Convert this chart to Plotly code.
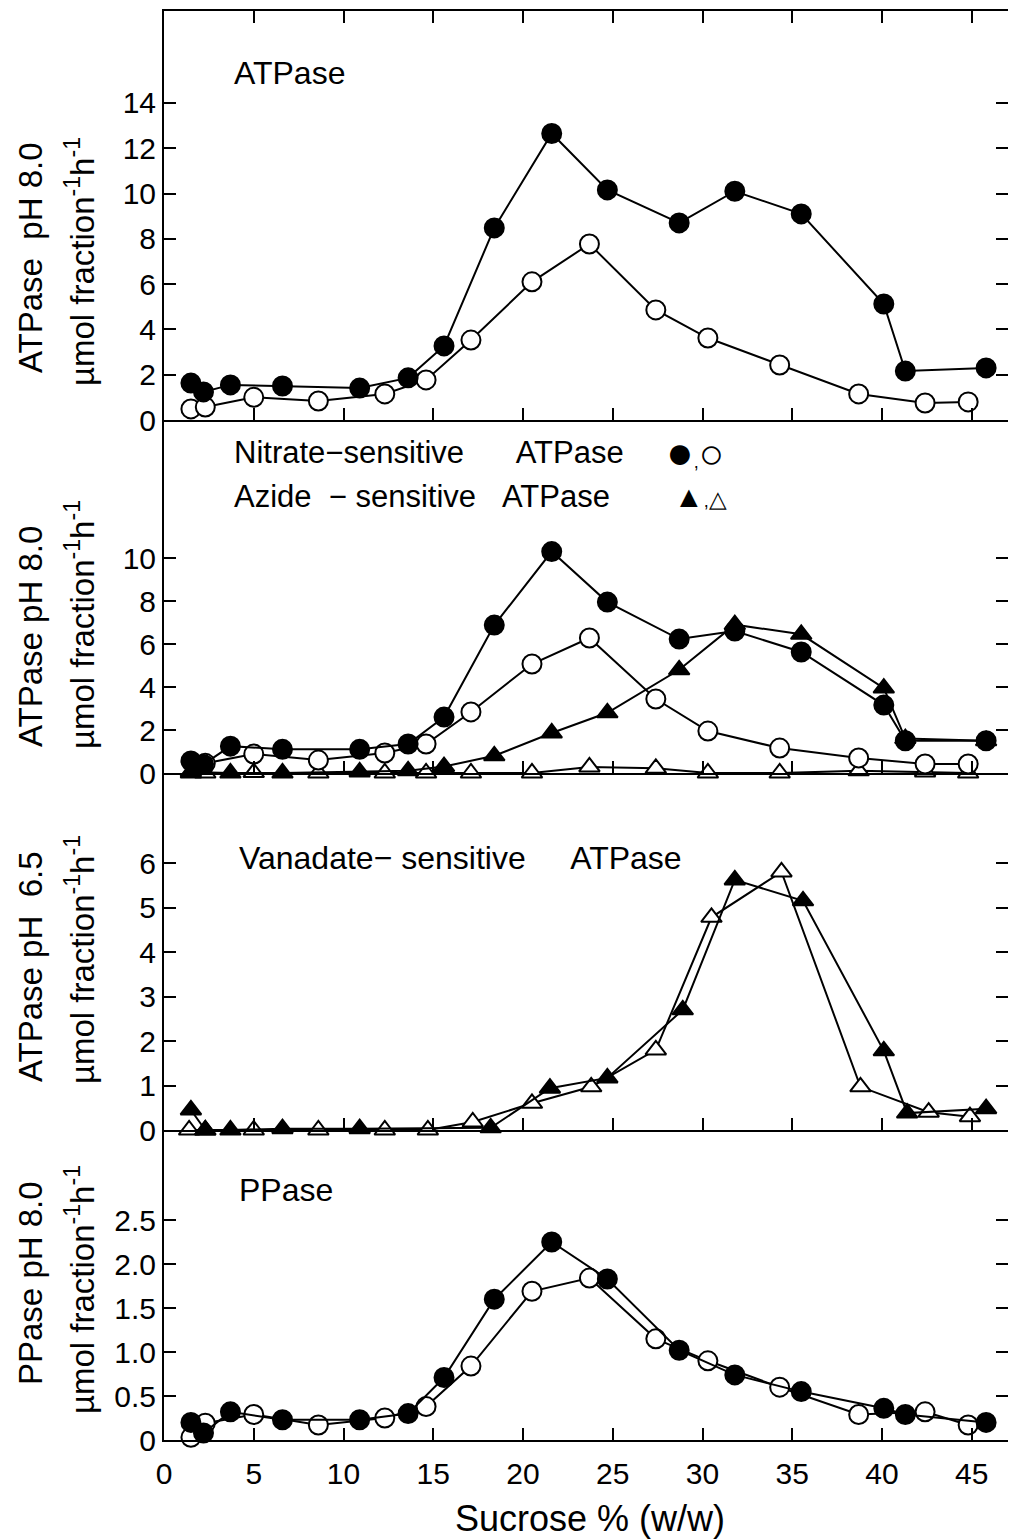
import plotly.graph_objects as go
from plotly.subplots import make_subplots

# ---------------- data ----------------
# fraction positions (sucrose %, w/w)
x_filled = [1.5, 2.2, 3.7, 6.6, 10.9, 13.6, 15.6, 18.4, 21.6, 24.7, 28.7, 31.8, 35.5, 40.1, 41.3, 45.8]
x_open = [1.5, 2.3, 5.0, 8.6, 12.3, 14.6, 17.1, 20.5, 23.7, 27.4, 30.3, 34.3, 38.7, 42.4, 44.8]

# Panel 1: ATPase pH 8.0
atp_filled = [1.63, 1.24, 1.55, 1.5, 1.41, 1.86, 3.27, 8.48, 12.65, 10.16, 8.7, 10.1, 9.1, 5.12, 2.16, 2.3]
atp_open = [0.49, 0.57, 1.0, 0.84, 1.15, 1.77, 3.53, 6.1, 7.77, 4.86, 3.62, 2.43, 1.15, 0.75, 0.8]

# Panel 2: nitrate- (circles) and azide-sensitive (triangles) ATPase
nit_filled = [0.56, 0.4, 1.25, 1.1, 1.1, 1.35, 2.6, 6.88, 10.3, 7.95, 6.23, 6.6, 5.63, 3.16, 1.5, 1.5]
x_nit_open = [2.3, 5.0, 8.6, 12.3, 14.6, 17.1, 20.5, 23.7, 27.4, 30.3, 34.3, 38.7, 42.4, 44.8]
nit_open = [0.45, 0.88, 0.6, 0.93, 1.35, 2.84, 5.07, 6.28, 3.44, 1.95, 1.16, 0.7, 0.42, 0.42]
x_azi_filled = [1.5, 3.7, 6.6, 10.9, 13.6, 15.6, 18.4, 21.6, 24.7, 28.7, 31.8, 35.5, 40.1, 41.3, 45.8]
azi_filled = [0.05, 0.0, 0.0, 0.05, 0.1, 0.3, 0.8, 1.86, 2.8, 4.8, 6.9, 6.45, 3.95, 1.6, 1.5]
azi_open = [0.0, 0.0, 0.02, 0.0, 0.0, 0.0, 0.0, 0.0, 0.28, 0.22, 0.0, 0.0, 0.1, 0.05, 0.0]

# Panel 3: vanadate-sensitive ATPase pH 6.5
x_van_open = [1.4, 2.3, 5.0, 8.6, 12.3, 14.7, 17.2, 20.5, 23.8, 27.4, 30.5, 34.4, 38.8, 42.6, 44.9]
van_open = [0.0, 0.0, 0.0, 0.0, 0.0, 0.0, 0.18, 0.6, 0.97, 1.8, 4.78, 5.8, 0.97, 0.4, 0.3]
x_van_filled = [1.5, 2.3, 3.7, 6.6, 10.9, 18.2, 21.5, 24.7, 28.9, 31.8, 35.6, 40.1, 41.4, 45.8]
van_filled = [0.45, 0.0, 0.0, 0.03, 0.03, 0.05, 0.94, 1.17, 2.7, 5.62, 5.15, 1.78, 0.38, 0.48]

# Panel 4: PPase pH 8.0
pp_filled = [0.2, 0.08, 0.32, 0.23, 0.23, 0.3, 0.71, 1.6, 2.25, 1.83, 1.02, 0.74, 0.55, 0.36, 0.29, 0.2]
pp_open = [0.03, 0.19, 0.29, 0.17, 0.25, 0.38, 0.84, 1.69, 1.84, 1.15, 0.9, 0.6, 0.29, 0.32, 0.17]

x_ticks = [0, 5, 10, 15, 20, 25, 30, 35, 40, 45]
y1_ticks = [0, 2, 4, 6, 8, 10, 12, 14]
y2_ticks = [0, 2, 4, 6, 8, 10]
y3_ticks = [0, 1, 2, 3, 4, 5, 6]
y4_ticks = [0, 0.5, 1.0, 1.5, 2.0, 2.5]
y4_labels = ["0", "0.5", "1.0", "1.5", "2.0", "2.5"]

# ---------------- layout geometry ----------------
W, H = 1011, 1540
ML, MR, MT, MB = 164, 3, 11, 100
PH = H - MT - MB
PW = W - ML - MR
bounds = [11, 420, 773, 1130, 1440]  # pixel rows of panel edges
FONT = "Liberation Sans, Arial, sans-serif"
TFS = 30   # tick labels
FS = 32    # in-panel texts

def py(p):
    return (H - MB - p) / PH

heights = [bounds[i + 1] - bounds[i] for i in range(4)]
fig = make_subplots(rows=4, cols=1, shared_xaxes=True, vertical_spacing=0,
                    row_heights=heights)

def line(x, y, row, symbol, filled):
    fig.add_trace(go.Scatter(
        x=x, y=y, mode="lines+markers", cliponaxis=False,
        line=dict(color="black", width=2),
        marker=dict(symbol=symbol, size=19 if symbol == "circle" else 18,
                    color="black" if filled else "white",
                    line=dict(color="black", width=2)),
        showlegend=False, hoverinfo="skip"), row=row, col=1)

line(x_open, atp_open, 1, "circle", False)
line(x_filled, atp_filled, 1, "circle", True)

line(x_open, azi_open, 2, "triangle-up", False)
line(x_azi_filled, azi_filled, 2, "triangle-up", True)
line(x_nit_open, nit_open, 2, "circle", False)
line(x_filled, nit_filled, 2, "circle", True)

line(x_van_open, van_open, 3, "triangle-up", False)
line(x_van_filled, van_filled, 3, "triangle-up", True)

line(x_open, pp_open, 4, "circle", False)
line(x_filled, pp_filled, 4, "circle", True)

xr = [0, PW / 17.95]
yranges = [[0, (420 - 11) / 22.65], [0, (773 - 420) / 21.5], [0, (1130 - 773) / 44.5], [0, (1440 - 1130) / 88.0]]
yticks = [y1_ticks, y2_ticks, y3_ticks, y4_ticks]

for i in range(4):
    r = i + 1
    fig.update_xaxes(row=r, col=1, range=xr, showline=True, linecolor="black", linewidth=2,
                     ticks="inside", ticklen=12, tickwidth=2, tickcolor="black",
                     tickvals=x_ticks, showgrid=False, zeroline=False, automargin=False,
                     mirror="ticks" if r == 1 else False,
                     showticklabels=(r == 4), ticklabelstandoff=6,
                     tickfont=dict(family=FONT, size=TFS, color="black"))
    kw = dict(tickvals=yticks[i])
    if r == 4:
        kw["ticktext"] = y4_labels
    fig.update_yaxes(row=r, col=1, range=yranges[i], showline=True, linecolor="black", linewidth=2,
                     ticks="inside", ticklen=12, tickwidth=2, tickcolor="black",
                     showgrid=False, zeroline=False, ticklabelstandoff=0, automargin=False,
                     tickfont=dict(family=FONT, size=TFS, color="black"), **kw)

# right-side tick marks (no axis line)
for i in range(4):
    xa = "x" if i == 0 else "x%d" % (i + 1)
    ya = "y" if i == 0 else "y%d" % (i + 1)
    fig.layout["yaxis%d" % (i + 5)] = dict(
        overlaying=ya, side="right", anchor=xa,
        range=yranges[i], tickvals=yticks[i], ticks="inside", ticklen=12, tickwidth=2,
        tickcolor="black", showline=False, showgrid=False, zeroline=False,
        showticklabels=False, automargin=False)
    fig.add_trace(go.Scatter(x=[None], y=[None], xaxis=xa, yaxis="y%d" % (i + 5),
                             mode="markers", showlegend=False, hoverinfo="skip"))

ann = []
def text(px, pyy, s, anchor="left", angle=0, size=FS):
    ann.append(dict(x=(px - ML) / PW, y=py(pyy), xref="paper", yref="paper",
                    text=s, showarrow=False, xanchor=anchor if angle == 0 else "center",
                    yanchor="middle", textangle=angle,
                    font=dict(family=FONT, size=size, color="black")))

NB = "\u00a0"
text(232, 73, "ATPase")
text(232, 452, "Nitrate\u2212sensitive" + NB * 6 + "ATPase", size=31)
text(232, 497, "Azide" + NB * 2 + "\u2212" + NB + "sensitive" + NB * 3 + "ATPase", size=31)
# legend keys
text(664, 452, "<span style='font-size:46px'>\u25CF</span><span style='font-size:18px'>,</span>"
     "<span style='font-size:42px'>\u25CB</span>", size=30)
text(672, 497, "<span style='font-size:30px'>\u25B2</span><span style='font-size:18px'>,</span>"
     "<span style='font-size:23px'>\u25B3</span>", size=30)
text(237, 858, "Vanadate\u2212" + NB + "sensitive" + NB * 5 + "ATPase")
text(237, 1190, "PPase")

ylab1 = ["ATPase" + NB * 2 + "pH 8.0", "ATPase pH 8.0", "ATPase pH" + NB * 2 + "6.5", "PPase pH 8.0"]
ycent1 = [258, 637, 967, 1283]
ycent2 = [262, 625, 960, 1290]
for i in range(4):
    text(30, ycent1[i], ylab1[i], angle=-90, size=33)
    text(80, ycent2[i], "\u00B5mol fraction<sup>-1</sup>h<sup>-1</sup>", angle=-90, size=33)

text(590, 1518, "Sucrose % (w/w)", anchor="center", size=36)

fig.update_layout(width=W, height=H, margin=dict(l=ML, r=MR, t=MT, b=MB, autoexpand=False),
                  plot_bgcolor="white", paper_bgcolor="white", annotations=ann,
                  font=dict(family=FONT, size=FS, color="black"))

fig.write_html("out.html", config={"displayModeBar": False},
               post_script="document.body.style.margin='0';document.body.style.overflow='hidden';")
